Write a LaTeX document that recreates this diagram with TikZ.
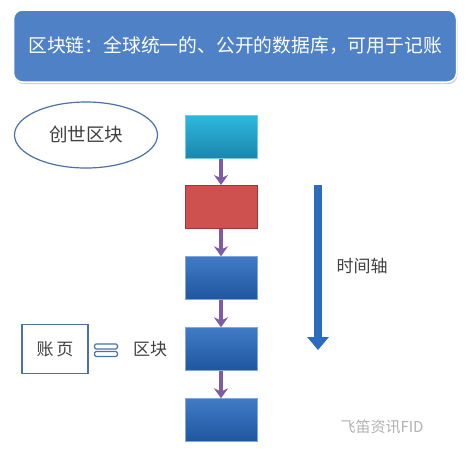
\documentclass[tikz,border=0pt]{standalone}
\usepackage{fontspec}
\setmainfont{Noto Sans CJK SC}
\usetikzlibrary{arrows.meta,shapes.geometric,shadows}
\definecolor{titleblue}{HTML}{4F81C6}
\definecolor{blockblue}{HTML}{2C6CC0}
\definecolor{blockbluedark}{HTML}{1F56A0}
\definecolor{blockcyan}{HTML}{2EB8DD}
\definecolor{blockcyandark}{HTML}{1A86AC}
\definecolor{blockred}{HTML}{CE514F}
\definecolor{blockreddark}{HTML}{9E3532}
\definecolor{arrowpurple}{HTML}{7D5BA6}
\definecolor{linkblue}{HTML}{4A72A8}
\definecolor{textgray}{HTML}{404040}
\tikzset{
  blockbox/.style={minimum width=72pt, minimum height=43pt, inner sep=0pt},
  chainarrow/.style={draw=arrowpurple, line width=3.6pt, -{Stealth[length=10pt,width=14pt]}},
  cjk/.style={font=\fontsize{17}{20}\selectfont, text=textgray}
}
\begin{document}
\begin{tikzpicture}[x=1pt,y=-1pt]
\useasboundingbox[fill=white] (0,0) rectangle (468,451);
% title
\node[draw=white, line width=1.5pt, fill=titleblue, rounded corners=9pt, minimum width=443pt, minimum height=72pt,
  drop shadow={shadow xshift=1pt, shadow yshift=-2pt, opacity=0.35}, inner sep=0pt,
  font=\fontsize{18.8}{22}\selectfont, text=white] (title) at (235,46) {区块链：全球统一的、公开的数据库，可用于记账};
% genesis ellipse
\node[draw=linkblue, line width=1.2pt, ellipse, minimum width=143pt, minimum height=66pt, inner sep=0pt,
  cjk, font=\fontsize{18.5}{22}\selectfont] (gen) at (86,135) {创世区块};
% blocks
\node[blockbox, top color=blockcyan, bottom color=blockcyandark, draw=blockcyan!70!white] (b1) at (221,137) {};
\node[blockbox, fill=blockred, draw=blockreddark, line width=1pt] (b2) at (221,207) {};
\node[blockbox, top color=blockblue!90!white, bottom color=blockbluedark, draw=blockblue!60!white] (b3) at (221,278) {};
\node[blockbox, top color=blockblue!90!white, bottom color=blockbluedark, draw=blockblue!60!white] (b4) at (221,349) {};
\node[blockbox, top color=blockblue!90!white, bottom color=blockbluedark, draw=blockblue!60!white] (b5) at (221,420) {};
\draw[chainarrow] (b1.south) -- (b2.north);
\draw[chainarrow] (b2.south) -- (b3.north);
\draw[chainarrow] (b3.south) -- (b4.north);
\draw[chainarrow] (b4.south) -- (b5.north);
% time axis
\coordinate (tTop) at (318,185);
\coordinate (tEnd) at (318,350);
\draw[blockblue, line width=8pt, -{Triangle[length=13pt,width=21pt]}] (tTop) -- (tEnd);
\node[cjk, anchor=west] (tlabel) at (333,266) {时间轴};
% ledger page
\node[draw=linkblue, line width=1.2pt, minimum width=66pt, minimum height=49pt, inner sep=0pt, cjk] (page) at (55,349) {账\,页};
\node[draw=linkblue, line width=1.2pt, fill=white, rounded corners=1.5pt, minimum width=23pt, minimum height=5pt, inner sep=0pt] (eqa) at (106,346.5) {};
\node[draw=linkblue, line width=1.2pt, fill=white, rounded corners=1.5pt, minimum width=23pt, minimum height=5pt, inner sep=0pt] (eqb) at (106,354) {};
\node[cjk] (blk) at (150,349) {区块};
% watermark
\node[font=\fontsize{15}{18}\selectfont, text=black!30] (wm) at (382,427) {飞笛资讯FID};
\end{tikzpicture}
\end{document}
